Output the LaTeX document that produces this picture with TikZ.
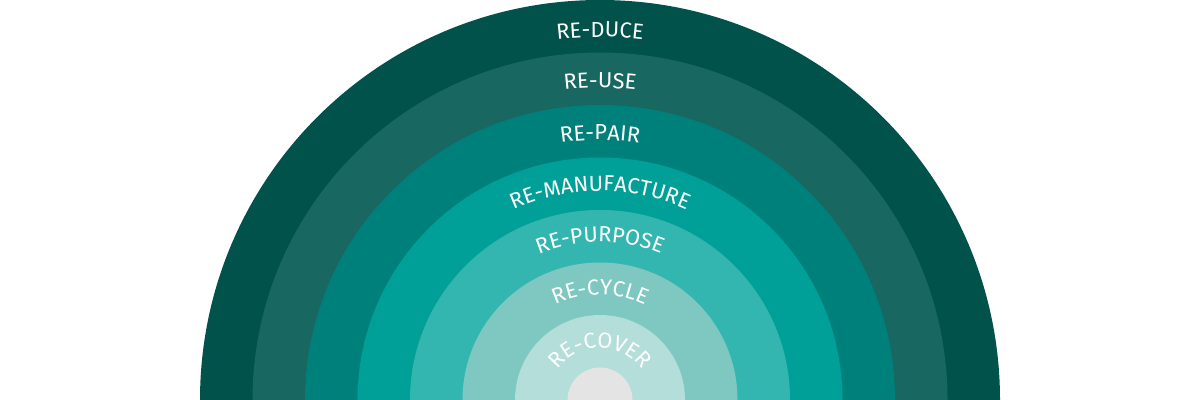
\documentclass[tikz,border=0pt]{standalone}
\usepackage{fontspec}
\setmainfont{Fira Sans}
\usetikzlibrary{decorations.text}

\definecolor{ringA}{RGB}{0,82,75}
\definecolor{ringB}{RGB}{24,103,97}
\definecolor{ringC}{RGB}{0,128,122}
\definecolor{ringD}{RGB}{0,160,152}
\definecolor{ringE}{RGB}{52,182,176}
\definecolor{ringF}{RGB}{127,200,193}
\definecolor{ringG}{RGB}{180,222,217}
\definecolor{hub}{RGB}{228,228,228}

% label on an arc of radius #1 round the centre (c)
\newcommand{\ringlabel}[2]{%
  \path[decorate, decoration={text along path, text align=center, text color=white,
    text={|\fontsize{15.5}{18}\selectfont|#2}}]
    (c) ++(-#1,0) arc[start angle=180, end angle=0, radius=#1];
}

\begin{document}
\begin{tikzpicture}[x=0.025cm, y=0.025cm]
\useasboundingbox (0,0) rectangle (1200,400);
\coordinate (c) at (600,0);

\foreach \r/\col in {400/ringA, 347.5/ringB, 295/ringC, 242.5/ringD,
                     190/ringE, 137.5/ringF, 85/ringG, 32.5/hub}
  \fill[\col] (c) ++(\r,0) arc[start angle=0, end angle=180, radius=\r] -- cycle;

\ringlabel{363}{RE-DUCE}
\ringlabel{312}{RE-USE}
\ringlabel{260}{RE-PAIR}
\ringlabel{209}{RE-MANUFACTURE}
\ringlabel{158}{RE-PURPOSE}
\ringlabel{105}{RE-CYCLE}
\ringlabel{52}{RE-COVER}
\end{tikzpicture}
\end{document}
